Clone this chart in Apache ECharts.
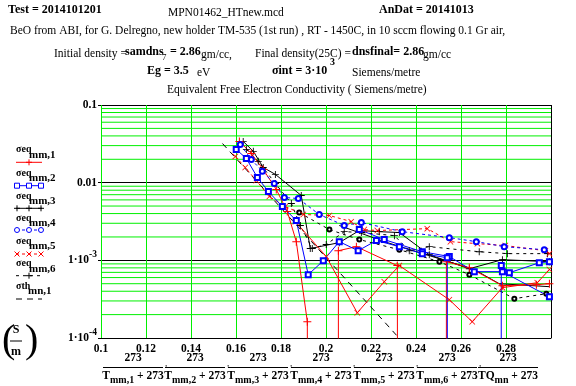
<!DOCTYPE html>
<html><head><meta charset="utf-8">
<script src="https://cdn.jsdelivr.net/npm/echarts@6/dist/echarts.min.js"></script>
<style>html,body{margin:0;padding:0;background:#fff}#c{width:576px;height:386px}</style>
</head><body><div id="c"></div>
<script>
// ---- tick labels ----
const X_TICK_LABELS = ['0.1','0.12','0.14','0.16','0.18','0.2','0.22','0.24','0.26','0.28'];
const Y_TICK_VALUES = [1e-4, 1e-3, 0.01, 0.1];
const Y_MINOR = [2e-4,3e-4,4e-4,5e-4,6e-4,7e-4,8e-4,9e-4,2e-3,3e-3,4e-3,5e-3,6e-3,7e-3,8e-3,9e-3,0.02,0.03,0.04,0.05,0.06,0.07,0.08,0.09];

// ---- series values (x = 273/(T+273), y = conductivity S/m) ----
const x_eq1 = [0.1615,0.1668,0.1721,0.1779,0.1828,0.1868,0.1917,0.1920,0.2055,0.2055,0.2135,0.2317,0.2320,0.2535,0.2535,0.2637,0.2784,0.2935,0.2993];
const y_eq1 = [0.0340,0.0238,0.0148,0.00817,0.00425,0.00174,0.000162,1e-9,1e-9,0.00133,0.00150,0.000855,1e-9,1e-9,0.00096,0.000805,0.000472,0.000485,0.000500];
const x_eq1b = [0.1864,0.2001,0.2139,0.2259,0.2326,0.2548,0.2650,0.2784,0.2939,0.2993];
const y_eq1b = [0.00315,0.00112,0.000211,0.000531,0.000855,0.000311,0.000162,0.000445,0.000515,0.00076];
const x_eq2 = [0.1601,0.1646,0.1695,0.1744,0.1806,0.1868,0.1921,0.1988,0.2059,0.2143,0.2224,0.2326,0.2428,0.2539,0.2540,0.2778,0.2779,0.2815,0.2948,0.2993];
const y_eq2 = [0.0268,0.0205,0.01167,0.00769,0.00493,0.00325,0.000653,0.00099,0.00174,0.00133,0.00180,0.00150,0.00122,0.00108,1e-9,1e-9,0.000855,0.000693,0.00093,0.00096];
const x_eq2b = [0.2148,0.2259,0.2428,0.2548,0.2659,0.2784,0.2993];
const y_eq2b = [0.00249,0.00185,0.00129,0.00112,0.000715,0.000715,0.00034];
const x_eq3 = [0.1632,0.1677,0.1721,0.1775,0.1890,0.1930,0.2059,0.2148,0.2237,0.2326,0.2459,0.2637,0.2784,0.2993];
const y_eq3 = [0.0340,0.0253,0.0157,0.01277,0.00684,0.00142,0.00169,0.00242,0.00234,0.00228,0.00118,0.00078,0.00102,0.00096];
const x_eq3b = [0.2059,0.2259,0.2459,0.2659,0.2770,0.2993];
const y_eq3b = [0.00281,0.00174,0.00115,0.00076,0.00050,0.000458];
const x_eq4 = [0.1619,0.1668,0.1717,0.1770,0.1815,0.1877,0.1970,0.2081,0.2157,0.2339,0.2548,0.2668,0.2792,0.2970];
const y_eq4 = [0.0311,0.0199,0.0140,0.00977,0.00644,0.00625,0.00389,0.00281,0.00306,0.00234,0.00196,0.00174,0.00150,0.00137];
const x_eq5 = [0.1597,0.1641,0.1690,0.1748,0.1819,0.1899,0.2015,0.2112,0.2170,0.2228,0.2450,0.2553,0.2673,0.2797,0.2975,0.2993];
const y_eq5 = [0.0218,0.0157,0.01067,0.00664,0.00493,0.00389,0.00378,0.00315,0.00249,0.00242,0.00256,0.00174,0.00164,0.00155,0.00133,0.00122];
const x_eq6 = [0.1646,0.1699,0.1775,0.1846,0.1886,0.1939,0.2001,0.2081,0.2157,0.2304,0.2370,0.2459,0.2681,0.2806,0.2984];
const y_eq6 = [0.0268,0.0188,0.00977,0.0054,0.00281,0.00142,0.00160,0.00234,0.00228,0.00208,0.00133,0.00150,0.00129,0.00122,0.00122];
const x_eq6b = [0.1881,0.2015,0.2148,0.2326,0.2504,0.2637,0.2837,0.2979];
const y_eq6b = [0.00412,0.00249,0.00185,0.00137,0.00096,0.000653,0.000321,0.000372];
const x_th = [0.154,0.165,0.175,0.185,0.195,0.205,0.215,0.225,0.235];
const y_th = [0.0319,0.01422,0.00682,0.00327,0.00157,0.000752,0.000361,0.000173,0.0000828];

// ---- legend names / axis title pieces ----
const LEGEND_NAMES = ['σeq','σeq','σeq','σeq','σeq','σeq','σth'];
const LEGEND_SUBS = ['mm,1','mm,2','mm,3','mm,4','mm,5','mm,6','mn,1'];
const X_TITLE_VARS = ['T','T','T','T','T','T','TQ'];
const X_TITLE_SUBS = ['mm,1','mm,2','mm,3','mm,4','mm,5','mm,6','mn'];

const FF = '"Liberation Serif","Times New Roman",serif';
const GREEN = '#00f000';
const PLUS = 'path://M-0.5,-4L0.5,-4L0.5,-0.5L4,-0.5L4,0.5L0.5,0.5L0.5,4L-0.5,4L-0.5,0.5L-4,0.5L-4,-0.5L-0.5,-0.5Z';
const CROSS = 'path://M-4,-3.3L-3.3,-4L0,-0.7L3.3,-4L4,-3.3L0.7,0L4,3.3L3.3,4L0,0.7L-3.3,4L-4,3.3L-0.7,0Z';
const X_MIN = 0.1, X_MAX = 0.3;

function pairs(xs, ys){ return xs.map((v,i)=>[v, ys[i]]); }
function mk(name, xs, ys, color, dash, symbol, size){
  const isPath = symbol.indexOf('path://')===0;
  return {
    name, type:'line', data:pairs(xs,ys), symbol, symbolSize:size, showSymbol: symbol!=='none', showAllSymbol:true,
    lineStyle:{color, width:1, type: dash || 'solid'},
    itemStyle:{color, borderColor:color, borderWidth: isPath?0:1},
    z:3, clip:true, silent:true, emphasis:{disabled:true}
  };
}

// minor (2..9 per decade) horizontal grid lines drawn through the axis scale
const series = Y_MINOR.map(v=>({type:'line', data:[[X_MIN,v],[X_MAX,v]], symbol:'none', silent:true, z:1,
  lineStyle:{color:GREEN, width:1}, emphasis:{disabled:true}}));

series.push(
  mk('σeq mm,6', x_eq6, y_eq6, '#000', [3,4], PLUS, 7),
  mk('extra6', x_eq6b, y_eq6b, '#000', [3,4], 'emptyCircle', 4),
  mk('σth mn,1', x_th, y_th, '#000', [6,5], 'none', 0),
  mk('σeq mm,3', x_eq3, y_eq3, '#000', null, PLUS, 7),
  mk('extra3', x_eq3b, y_eq3b, '#000', null, 'none', 0),
  mk('σeq mm,5', x_eq5, y_eq5, '#f00', [3,3], CROSS, 6),
  mk('extra1', x_eq1b, y_eq1b, '#f00', null, CROSS, 6),
  mk('σeq mm,1', x_eq1, y_eq1, '#f00', null, PLUS, 8),
  mk('σeq mm,4', x_eq4, y_eq4, '#00f', [3,3], 'emptyCircle', 5),
  mk('extra2', x_eq2b, y_eq2b, '#00f', null, 'emptyRect', 5),
  mk('σeq mm,2', x_eq2, y_eq2, '#00f', null, 'emptyRect', 5)
);

// ---- graphic text ----
const G = [];
function txt(x,y,text,font,extra){ G.push({type:'text', x, y, silent:true, z:50, style:Object.assign({text, font, fill:'#000', align:'left', verticalAlign:'middle'}, extra||{})}); }
function ln(x1,y1,x2,y2,color,dash){ G.push({type:'line', silent:true, z:50, shape:{x1,y1,x2,y2}, style:{stroke:color, lineWidth:1, lineDash:dash||null}}); }
const B = s => 'bold '+s+'px '+FF;
const R = s => s+'px '+FF;

txt(8,10,'Test = 2014101201',B(12));
txt(168,13,'MPN01462_HTnew.mcd',R(11.5));
txt(379,10,'AnDat = 20141013',B(12));
txt(10,31,'BeO from ABI, for G. Delregno, new holder TM-535 (1st run) , RT - 1450C, in 10 sccm flowing 0.1 Gr air,',R(11.5));
txt(54,54,'Initial density =',R(11.5));
txt(125,52,'samdns',B(12));
txt(162,58,'7',R(9));
txt(170,52,'= 2.86',B(12));
txt(201,55,'gm/cc,',R(11.5));
txt(255,54,'Final density(25C) =',R(11.5));
txt(352,52,'dnsfinal= 2.86',B(12));
txt(423,55,'gm/cc',R(11.5));
txt(147,71,'Eg = 3.5',B(12));
txt(197,73,'eV',R(11.5));
txt(272,71,'σint = 3·10',B(12));
txt(330,62,'3',B(10));
txt(352,73,'Siemens/metre',R(11.5));
txt(167,90,'Equivalent Free Electron Conductivity ( Siemens/metre)',R(11.5));

// legend
const legY = [151.7,175,198.3,220,243.3,265.7,288.3];
const sampY = [162.3,185.7,208.3,230,254,275.7,299];
const legStyle = [
  {c:'#f00', d:null, m:'plus', at:[29]},
  {c:'#00f', d:null, m:'rect', at:[17,29,41]},
  {c:'#000', d:null, m:'plus', at:[17,29,41]},
  {c:'#00f', d:[3,3], m:'circle', at:[17,29,41]},
  {c:'#f00', d:[3,3], m:'cross', at:[17,29,41]},
  {c:'#000', d:[3,4], m:'plus', at:[29]},
  {c:'#000', d:[6,5], m:'none', at:[]}
];
LEGEND_NAMES.forEach((n,i)=>{
  txt(16, legY[i]-2, n, B(10));
  txt(i===6?28:29, legY[i]+3, LEGEND_SUBS[i], B(11));
  const s = legStyle[i], y = sampY[i];
  ln(16,y,42,y,s.c,s.d);
  s.at.forEach(cx=>{
    if(s.m==='plus'){ ln(cx-3,y,cx+3,y,s.c); ln(cx,y-3,cx,y+3,s.c); }
    else if(s.m==='cross'){ ln(cx-2.5,y-2.5,cx+2.5,y+2.5,s.c); ln(cx-2.5,y+2.5,cx+2.5,y-2.5,s.c); }
    else if(s.m==='rect'){ G.push({type:'rect', silent:true, z:50, shape:{x:cx-2.5,y:y-2.5,width:5,height:5}, style:{fill:'#fff', stroke:s.c, lineWidth:1}}); }
    else if(s.m==='circle'){ G.push({type:'circle', silent:true, z:50, shape:{cx, cy:y, r:2.5}, style:{fill:'#fff', stroke:s.c, lineWidth:1}}); }
  });
});

// y-axis unit (S/m)
txt(2,341,'(',R(40));
txt(25,341,')',R(40));
txt(16,330,'S',B(12),{align:'center'});
ln(10,341,22,341,'#000');
txt(16,352,'m',B(12),{align:'center'});

// x-axis title fractions
const fracC = [133,195,258,321,384,447,508];
X_TITLE_VARS.forEach((v,i)=>{
  const c = fracC[i];
  txt(c,358,'273',B(11.5),{align:'center'});
  ln(c-30,367.5,c+30,367.5,'#000');
  G.push({type:'text', x:c, y:376, silent:true, z:50, style:{
    text:'{t|'+v+'}{s|'+X_TITLE_SUBS[i]+'}{t| + 273}', align:'center', verticalAlign:'middle',
    rich:{t:{font:B(11.5), fill:'#000'}, s:{font:B(10), fill:'#000', padding:[8,0,0,0]}}}});
  if(i<6) txt(c+32,364,',',R(9));
});

const option = {
  animation:false,
  backgroundColor:'#fff',
  grid:{left:101, right:25, top:105, bottom:48, containLabel:false},
  xAxis:{type:'value', min:X_MIN, max:X_MAX, interval:0.02,
    axisLine:{show:true, onZero:false, lineStyle:{color:'#000', width:1}},
    axisTick:{show:false},
    axisLabel:{margin:5, fontFamily:FF, fontWeight:'bold', fontSize:11.5, color:'#000', showMaxLabel:false,
      formatter:v=>{ const s = X_TICK_LABELS.find(l=>Math.abs(parseFloat(l)-v)<1e-9); return s||''; }},
    splitLine:{show:true, lineStyle:{color:[GREEN,GREEN,GREEN,GREEN,GREEN,GREEN,GREEN,GREEN,GREEN,GREEN,'#000'], width:1}}
  },
  yAxis:{type:'log', logBase:10, min:Y_TICK_VALUES[0], max:Y_TICK_VALUES[3],
    axisLine:{show:false},
    axisTick:{show:true, length:3, lineStyle:{color:'#000'}},
    axisLabel:{margin:4, color:'#000', fontFamily:FF, fontWeight:'bold', fontSize:11.5,
      formatter:v=>{ const e=Math.round(Math.log10(v)); if(e===-1) return '{b|0.1}'; if(e===-2) return '{b|0.01}'; return '{b|1·10}{s|'+e+'}'; },
      rich:{b:{fontFamily:FF, fontWeight:'bold', fontSize:11.5, color:'#000'}, s:{fontFamily:FF, fontWeight:'bold', fontSize:9.5, color:'#000', padding:[0,0,11,0]}}},
    splitLine:{show:true, lineStyle:{color:'#000', width:1}}
  },
  graphic:G,
  series
};
const chart = echarts.init(document.getElementById('c'), null, {renderer:'canvas'});
chart.setOption(option);
</script></body></html>
